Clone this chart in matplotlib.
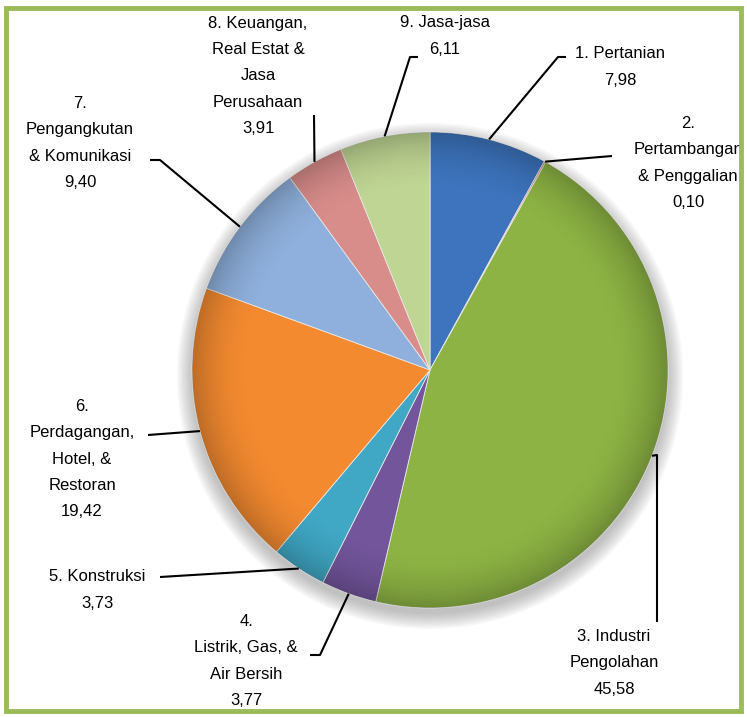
import numpy as np
import matplotlib
matplotlib.use("Agg")
import matplotlib.pyplot as plt
from matplotlib.patches import Rectangle, Circle

# data
labels = ["1. Pertanian", "2.\nPertambangan\n& Penggalian", "3. Industri\nPengolahan",
          "4.\nListrik, Gas, &\nAir Bersih", "5. Konstruksi",
          "6.\nPerdagangan,\nHotel, &\nRestoran", "7.\nPengangkutan\n& Komunikasi",
          "8. Keuangan,\nReal Estat &\nJasa\nPerusahaan", "9. Jasa-jasa"]
values = [7.98, 0.10, 45.58, 3.77, 3.73, 19.42, 9.40, 3.91, 6.11]
colors = ["#3d74bd", "#c0504d", "#8db344", "#72559b", "#40a7c4",
          "#f38a30", "#8fb0dc", "#d98d8b", "#bfd593"]

# layout (pixels of the 747x717 picture)
CX, CY, R = 430, 370, 238
text_pos = [(620, 67), (688, 163), (614, 663), (246, 661), (97, 590),
            (82, 459), (80, 143), (258, 76), (445, 36)]
elbows = [[(558, 57), (566, 57)], [(612, 156)], [(657, 455), (657, 622)],
          [(320, 655), (310, 655)], [(160, 577)], [(148, 435)],
          [(160, 160), (150, 160)], [(314, 115)], [(410, 57), (418, 57)]]


def to_data(x, y):
    return (x - CX) / R, (CY - y) / R


plt.rcParams['font.family'] = ['Liberation Sans', 'DejaVu Sans']

fig = plt.figure(figsize=(7.47, 7.17), dpi=100)
ax = fig.add_axes([0, 0, 1, 1])

# soft shadow
for k in range(10):
    ax.add_patch(Circle((0.0, -0.025), 1.0 + 0.007 * k, color='#707070',
                        alpha=0.05, lw=0, zorder=1))

wedges, _ = ax.pie(values, colors=colors, startangle=90, counterclock=False,
                   radius=1.0, wedgeprops=dict(edgecolor='#e8e8e8', linewidth=0.6))
for w in wedges:
    w.set_zorder(2)

# edge darkening
n = 400
g = np.linspace(-1, 1, n)
xx, yy = np.meshgrid(g, g)
rr = np.sqrt(xx ** 2 + yy ** 2)
shade = np.zeros((n, n, 4))
shade[..., 3] = np.clip((rr - 0.75) / 0.25, 0, 1) ** 2 * 0.22
img = ax.imshow(shade, extent=(-1, 1, -1, 1), zorder=3, interpolation='bilinear')
img.set_clip_path(Circle((0, 0), 1.0, transform=ax.transData))

# labels and leader lines
for w, lab, v, tp, el in zip(wedges, labels, values, text_pos, elbows):
    mid = np.deg2rad((w.theta1 + w.theta2) / 2)
    pts = [(np.cos(mid), np.sin(mid))] + [to_data(*p) for p in el]
    xs, ys = zip(*pts)
    ax.plot(xs, ys, color='black', lw=1.5, zorder=4, solid_capstyle='butt')
    tx, ty = to_data(*tp)
    ax.text(tx, ty, lab + "\n" + ("%.2f" % v).replace(".", ","), ha='center', va='center',
            fontsize=12, linespacing=1.92, zorder=5)

ax.set_aspect('equal')
ax.set_xlim(to_data(0, 0)[0], to_data(747, 0)[0])
ax.set_ylim(to_data(0, 717)[1], to_data(0, 0)[1])
ax.axis('off')

fig.add_artist(Rectangle((6 / 747, 6 / 717), 735 / 747, 703 / 717, transform=fig.transFigure,
                         fill=False, edgecolor='#9bbb59', linewidth=3.5))

fig.savefig("out.png", dpi=100)
